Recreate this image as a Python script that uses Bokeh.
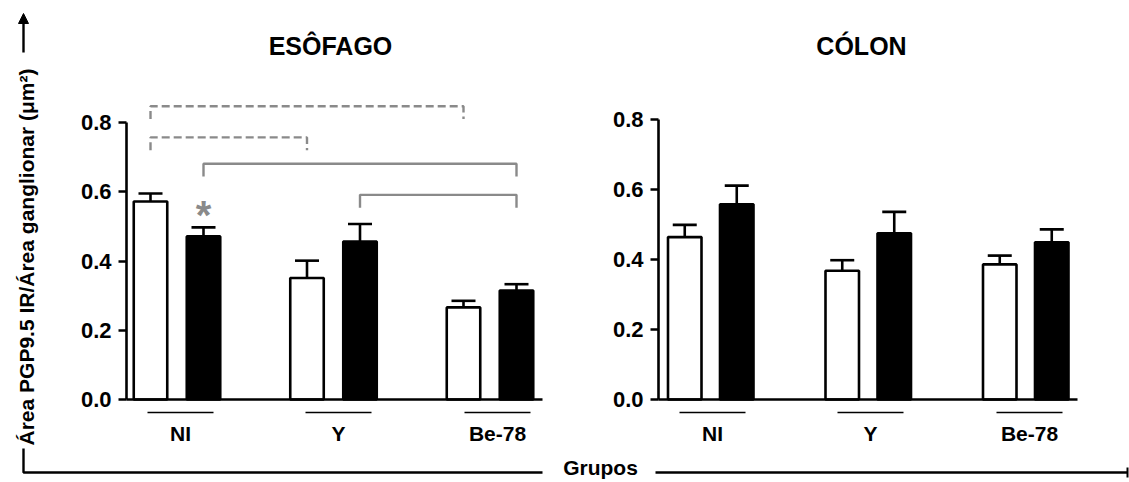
import math
from bokeh.plotting import figure
from bokeh.models import (Range1d, LinearAxis, FixedTicker, NumeralTickFormatter,
                          Label, Arrow, NormalHead, ColumnDataSource)
from bokeh.core.properties import value
from bokeh.embed import file_html
from bokeh.resources import INLINE

# ---------------- data ----------------
groups = ["NI", "Y", "Be-78"]
titles = ["ESÔFAGO", "CÓLON"]
y_ticks = [0.0, 0.2, 0.4, 0.6, 0.8]
y_label = "Área PGP9.5 IR/Área ganglionar (μm²)"
x_label = "Grupos"

eso_open = [0.572, 0.351, 0.266]
eso_open_err = [0.023, 0.050, 0.019]
eso_filled = [0.471, 0.456, 0.315]
eso_filled_err = [0.026, 0.051, 0.018]

col_open = [0.464, 0.368, 0.386]
col_open_err = [0.035, 0.030, 0.025]
col_filled = [0.558, 0.475, 0.449]
col_filled_err = [0.053, 0.061, 0.037]

# significance marks (esophagus): (group, series 0=open 1=filled)
sig_from = [("NI", 0), ("NI", 0), ("NI", 1), ("Y", 1)]
sig_to = [("Be-78", 0), ("Y", 0), ("Be-78", 1), ("Be-78", 1)]
sig_level = [0.847, 0.757, 0.681, 0.591]
sig_dashed = [True, True, False, False]
star_on = ("NI", 1)

# ---------------- layout ----------------
W, H = 1129, 482
BASE = 399              # pixel row of value 0
PXL, PXR = 346.25, 350  # pixels per unit (left / right panel)
FONT = "Liberation Sans"


def ymapL(py):
    return (BASE - py) / PXL


def ymapR(py):
    return (BASE - py) / PXR


p = figure(width=W, height=H, x_range=Range1d(0, W),
           y_range=Range1d(ymapL(H), ymapL(0)),
           x_axis_location=None, y_axis_location=None,
           toolbar_location=None, output_backend="svg", min_border=0,
           outline_line_color=None, background_fill_color="white",
           border_fill_color="white")
p.grid.visible = False
p.extra_y_ranges = {"colon": Range1d(ymapR(H), ymapR(0))}

panels = [
    dict(rn="default", title=titles[0], axis_x=126, first=50.5, step=156.5, half=26.5,
         x_end=542, lab_first=54, lab_step=158.5, title_x=330,
         open=eso_open, open_err=eso_open_err, filled=eso_filled, filled_err=eso_filled_err),
    dict(rn="colon", title=titles[1], axis_x=658, first=52.25, step=157.5, half=26.0,
         x_end=1077, lab_first=54, lab_step=158.5, title_x=861,
         open=col_open, open_err=col_open_err, filled=col_filled, filled_err=col_filled_err),
]

BAR_W = 33.5
LW = 2.6
CAP = 24

positions = {}
for k, pn in enumerate(panels):
    rn = pn["rn"]
    centers = [pn["axis_x"] + pn["first"] + i * pn["step"] for i in range(len(groups))]
    xo = [c - pn["half"] for c in centers]
    xf = [c + pn["half"] for c in centers]
    if k == 0:
        for i, g in enumerate(groups):
            positions[(g, 0)] = xo[i]
            positions[(g, 1)] = xf[i]

    for xs, vals, errs, fill in ((xo, pn["open"], pn["open_err"], "white"),
                                 (xf, pn["filled"], pn["filled_err"], "black")):
        tops = [v + e for v, e in zip(vals, errs)]
        src = ColumnDataSource(dict(x=xs, top=vals, etop=tops,
                                    cl=[x - CAP / 2 for x in xs],
                                    cr=[x + CAP / 2 for x in xs]))
        p.segment(x0="x", y0="top", x1="x", y1="etop", source=src, line_color="black",
                  line_width=LW, y_range_name=rn)
        p.segment(x0="cl", y0="etop", x1="cr", y1="etop", source=src, line_color="black",
                  line_width=LW, y_range_name=rn)
        p.vbar(x="x", top="top", bottom=0, width=BAR_W, source=src, fill_color=fill,
               line_color="black", line_width=LW, y_range_name=rn)

    # y axis
    yax = LinearAxis(fixed_location=pn["axis_x"], bounds=(0, 0.8), y_range_name=rn,
                     ticker=FixedTicker(ticks=y_ticks),
                     formatter=NumeralTickFormatter(format="0.0"))
    yax.axis_line_width = LW
    yax.major_tick_line_width = LW
    yax.major_tick_out = 8
    yax.major_tick_in = 0
    yax.minor_tick_out = 0
    yax.minor_tick_in = 0
    yax.major_label_standoff = 7
    yax.major_label_text_font = FONT
    yax.major_label_text_font_style = "bold"
    yax.major_label_text_font_size = "22px"
    yax.major_label_text_color = "black"
    p.add_layout(yax, "left")

    # x axis with group names
    lab_x = [int(round(pn["axis_x"] + pn["lab_first"] + i * pn["lab_step"])) for i in range(len(groups))]
    xax = LinearAxis(fixed_location=0, bounds=(pn["axis_x"], pn["x_end"]), y_range_name=rn,
                     ticker=FixedTicker(ticks=lab_x),
                     major_label_overrides={x: g for x, g in zip(lab_x, groups)})
    xax.axis_line_width = LW
    xax.major_tick_out = 0
    xax.major_tick_in = 0
    xax.minor_tick_out = 0
    xax.minor_tick_in = 0
    xax.major_label_standoff = 22
    xax.major_label_text_font = FONT
    xax.major_label_text_font_style = "bold"
    xax.major_label_text_font_size = "21px"
    xax.major_label_text_color = "black"
    p.add_layout(xax, "below")

    # group underlines
    p.segment(x0=[x - 33 for x in lab_x], x1=[x + 33 for x in lab_x],
              y0=[ymapL(412)] * 3, y1=[ymapL(412)] * 3, line_color="black", line_width=1.6)

    # title
    p.add_layout(Label(x=pn["title_x"], y=ymapL(45), text=pn["title"], text_align="center",
                       text_baseline="middle", text_font=FONT, text_font_style="bold",
                       text_font_size="25px", text_color="black"))

# significance brackets
LEG = 0.037
GRAY = "#8a8a8a"
for dashed in (True, False):
    xs, ys = [], []
    for a, b, lv, d in zip(sig_from, sig_to, sig_level, sig_dashed):
        if d != dashed:
            continue
        x1, x2 = positions[a], positions[b]
        xs.append([x1, x1, x2, x2])
        ys.append([lv - LEG, lv, lv, lv - LEG])
    p.multi_line(xs=xs, ys=ys, line_color=GRAY, line_width=2.4,
                 line_dash="8 4" if dashed else "solid")

gi = groups.index(star_on[0])
star_y = eso_filled[gi] + eso_filled_err[gi] + 0.035
p.text(x=[positions[star_on]], y=[star_y], text=["*"], text_align="center",
       text_baseline="middle", text_font=value(FONT), text_font_style="bold",
       text_font_size="40px", text_color=GRAY)

# outer axis decorations
p.add_layout(Label(x=26, y=ymapL(256.5), text=y_label, angle=math.pi / 2,
                   text_align="center", text_baseline="middle", text_font=FONT,
                   text_font_style="bold", text_font_size="21px", text_color="black"))
p.add_layout(Arrow(end=NormalHead(size=10, fill_color="black", line_color="black", line_width=1),
                   x_start=23, y_start=ymapL(52), x_end=23, y_end=ymapL(13),
                   line_width=2.4, line_color="black"))
BOT = 472
p.line(x=[23, 23, 542], y=[ymapL(448), ymapL(BOT), ymapL(BOT)], line_width=2.4,
       line_color="black")
p.line(x=[655, 1127], y=[ymapL(BOT), ymapL(BOT)], line_width=2.4, line_color="black")
p.segment(x0=[1127], y0=[ymapL(BOT - 5)], x1=[1127], y1=[ymapL(BOT + 5)], line_width=2,
          line_color="black")
p.add_layout(Label(x=600, y=ymapL(467), text=x_label, text_align="center",
                   text_baseline="middle", text_font=FONT, text_font_style="bold",
                   text_font_size="21px", text_color="black"))

open("out.html", "w").write(file_html(p, INLINE))
